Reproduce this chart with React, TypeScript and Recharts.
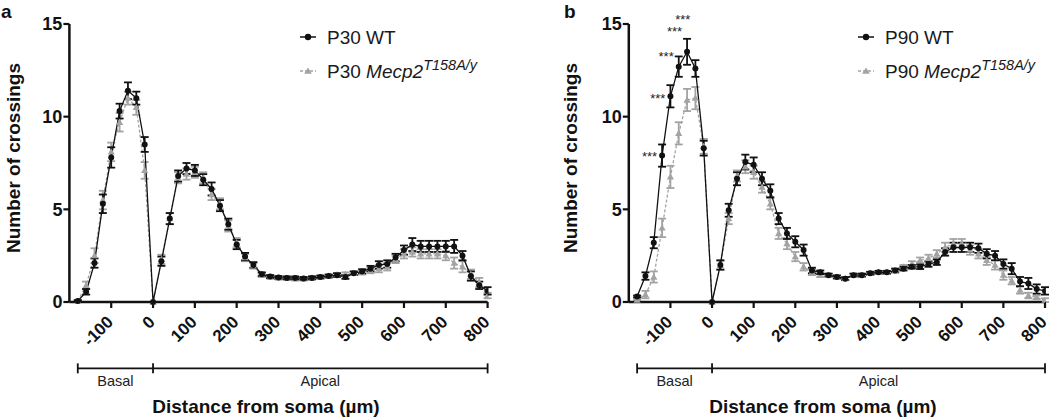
import React from 'react';
import {
  ComposedChart, Line, XAxis, YAxis, ErrorBar, ReferenceLine, ReferenceDot,
} from 'recharts';

// ---------- data ----------
const distances = [
  -180, -160, -140, -120, -100, -80, -60, -40, -20, 0,
  20, 40, 60, 80, 100, 120, 140, 160, 180, 200,
  220, 240, 260, 280, 300, 320, 340, 360, 380, 400,
  420, 440, 460, 480, 500, 520, 540, 560, 580, 600,
  620, 640, 660, 680, 700, 720, 740, 760, 780, 800,
];

const xTicks = [-100, 0, 100, 200, 300, 400, 500, 600, 700, 800];
const yTicks = [0, 5, 10, 15];

const namesA = ['P30 WT', 'P30 '];
const namesB = ['P90 WT', 'P90 '];
const geneName = 'Mecp2';
const geneSup = 'T158A/y';

const aWt = [
  0.05, 0.55, 2.1, 5.3, 7.8, 10.3, 11.4, 11.0, 8.5, 0,
  2.2, 4.5, 6.8, 7.2, 7.1, 6.6, 6.1, 5.2, 4.2, 3.1,
  2.45, 2.0, 1.5, 1.37, 1.32, 1.3, 1.3, 1.27, 1.3, 1.35,
  1.4, 1.45, 1.35, 1.55, 1.65, 1.8, 2.0, 2.05, 2.4, 2.8,
  3.1, 3.0, 3.0, 3.0, 3.0, 3.0, 2.5, 1.4, 0.9, 0.6,
];
const aWtErr = [
  0.05, 0.15, 0.25, 0.5, 0.55, 0.4, 0.45, 0.35, 0.4, 0,
  0.25, 0.3, 0.3, 0.3, 0.3, 0.3, 0.35, 0.3, 0.3, 0.25,
  0.2, 0.15, 0.1, 0.08, 0.08, 0.08, 0.08, 0.08, 0.08, 0.08,
  0.08, 0.1, 0.1, 0.1, 0.12, 0.15, 0.2, 0.2, 0.2, 0.25,
  0.35, 0.3, 0.3, 0.3, 0.3, 0.35, 0.25, 0.25, 0.2, 0.2,
];
const aMu = [
  0.05, 0.9, 2.5, 5.5, 8.1, 9.7, 11.0, 10.5, 7.1, 0,
  2.3, 4.5, 6.7, 6.9, 7.0, 6.7, 5.8, 5.3, 4.1, 3.2,
  2.4, 1.95, 1.45, 1.35, 1.3, 1.28, 1.25, 1.25, 1.3, 1.33,
  1.4, 1.48, 1.5, 1.55, 1.6, 1.7, 1.8, 1.9, 2.3, 2.6,
  2.7, 2.6, 2.6, 2.6, 2.5, 2.1, 1.9, 1.5, 1.05, 0.35,
];
const aMuErr = [
  0.05, 0.2, 0.4, 0.5, 0.5, 0.5, 0.35, 0.4, 0.45, 0,
  0.25, 0.3, 0.3, 0.3, 0.3, 0.3, 0.3, 0.3, 0.3, 0.25,
  0.2, 0.15, 0.1, 0.08, 0.08, 0.08, 0.08, 0.08, 0.08, 0.08,
  0.08, 0.08, 0.1, 0.1, 0.12, 0.15, 0.2, 0.2, 0.2, 0.25,
  0.25, 0.25, 0.25, 0.25, 0.25, 0.3, 0.3, 0.25, 0.25, 0.15,
];

const bWt = [
  0.3, 1.4, 3.2, 7.9, 11.1, 12.7, 13.5, 12.6, 8.3, 0,
  2.0, 4.95, 6.65, 7.55, 7.4, 6.65, 6.0, 4.5, 3.7, 3.25,
  2.8, 1.7, 1.6, 1.45, 1.35, 1.26, 1.45, 1.45, 1.55, 1.6,
  1.6, 1.7, 1.8, 1.9, 1.9, 2.05, 2.15, 2.7, 2.95, 2.95,
  2.95, 2.9, 2.6, 2.5, 2.05, 1.8, 1.1, 1.0, 0.7, 0.6,
];
const bWtErr = [
  0.05, 0.2, 0.3, 0.6, 0.6, 0.55, 0.7, 0.45, 0.4, 0,
  0.25, 0.35, 0.35, 0.4, 0.4, 0.35, 0.35, 0.3, 0.3, 0.3,
  0.3, 0.15, 0.1, 0.08, 0.08, 0.08, 0.08, 0.08, 0.08, 0.08,
  0.08, 0.1, 0.1, 0.1, 0.12, 0.15, 0.15, 0.2, 0.25, 0.25,
  0.25, 0.25, 0.25, 0.25, 0.25, 0.3, 0.25, 0.3, 0.25, 0.2,
];
const bMu = [
  0.1, 0.4, 1.35, 4.0, 6.75, 9.1, 10.9, 11.0, 8.4, 0,
  1.98, 4.5, 6.8, 7.3, 7.0, 6.2, 5.3, 3.7, 3.15, 2.45,
  1.9, 1.6, 1.45, 1.45, 1.35, 1.26, 1.45, 1.45, 1.55, 1.6,
  1.6, 1.7, 1.9, 2.05, 2.25, 2.35, 2.6, 2.95, 3.15, 3.15,
  2.8, 2.6, 2.25, 2.0, 1.45, 1.15, 0.65, 0.35, 0.25, 0.1,
];
const bMuErr = [
  0.05, 0.2, 0.3, 0.5, 0.6, 0.6, 0.6, 0.6, 0.4, 0,
  0.25, 0.3, 0.3, 0.35, 0.35, 0.3, 0.3, 0.3, 0.3, 0.25,
  0.2, 0.15, 0.1, 0.08, 0.08, 0.08, 0.08, 0.08, 0.08, 0.08,
  0.08, 0.1, 0.1, 0.15, 0.15, 0.2, 0.2, 0.25, 0.25, 0.25,
  0.25, 0.25, 0.25, 0.25, 0.25, 0.2, 0.2, 0.15, 0.1, 0.1,
];

// significance markers (panel b): x position and label height
const sigX = [-120, -100, -80, -60, -40];
const sigY = [7.85, 11.0, 13.25, 14.6, 15.25];
const sigLabel = '***';

// region brackets
const regionNames = ['Basal', 'Apical'];
const regionEdges = [-180, 0, 800];
const bracketY = -3.58;
const bracketCap = 0.27;
const regionLabelY = -4.26;

// ---------- styling ----------
const FONT = '"Liberation Sans", Arial, Helvetica, sans-serif';
const BLACK = '#111';
const GRAY = '#a3a3a3';

const build = (wt, wtErr, mu, muErr) =>
  distances.map((x, i) => ({ x, wt: wt[i], wtErr: wtErr[i], mu: mu[i], muErr: muErr[i] }));

const dataA = build(aWt, aWtErr, aMu, aMuErr);
const dataB = build(bWt, bWtErr, bMu, bMuErr);

const XTick = (props) => {
  const { x, y, payload } = props;
  const px = x + 3;
  const py = y + 13;
  return (
    <text
      x={px}
      y={py}
      transform={`rotate(-45 ${px} ${py})`}
      textAnchor="end"
      fontFamily={FONT}
      fontWeight="bold"
      fontSize={17}
      fill={BLACK}
    >
      {payload.value}
    </text>
  );
};

const YTick = (props) => {
  const { x, y, payload } = props;
  return (
    <text x={x} y={y} dy="0.36em" textAnchor="end" fontFamily={FONT} fontWeight="bold" fontSize={18} fill={BLACK}>
      {payload.value}
    </text>
  );
};

const TriangleDot = (props) => {
  const { cx, cy, index } = props;
  if (cx == null || cy == null) return <g key={`t-${index}`} />;
  const s = 3.6;
  return (
    <polygon
      key={`t-${index}`}
      points={`${cx},${cy - s} ${cx - s},${cy + s * 0.75} ${cx + s},${cy + s * 0.75}`}
      fill={GRAY}
      stroke="none"
    />
  );
};

const Panel = ({ data, width, marginLeft, marginRight, sig }) => (
  <ComposedChart
    width={width}
    height={418}
    data={data}
    margin={{ top: 24, right: marginRight, bottom: 0, left: marginLeft }}
  >
    <XAxis
      type="number"
      dataKey="x"
      domain={[-200, 800]}
      ticks={xTicks}
      allowDataOverflow
      height={116}
      axisLine={{ stroke: BLACK, strokeWidth: 2.5 }}
      tickLine={{ stroke: BLACK, strokeWidth: 2.2 }}
      tickSize={6}
      tickMargin={2}
      tick={<XTick />}
      interval={0}
    />
    <YAxis
      type="number"
      domain={[0, 15]}
      ticks={yTicks}
      width={50}
      axisLine={{ stroke: BLACK, strokeWidth: 2.5 }}
      tickLine={{ stroke: BLACK, strokeWidth: 2.2 }}
      tickSize={6}
      tickMargin={1}
      tick={<YTick />}
      interval={0}
    />
    <Line
      type="linear"
      dataKey="mu"
      stroke={GRAY}
      strokeWidth={1.3}
      strokeDasharray="3 2"
      dot={TriangleDot}
      activeDot={false}
      isAnimationActive={false}
    >
      <ErrorBar dataKey="muErr" direction="y" width={4} stroke={GRAY} strokeWidth={1.8} />
    </Line>
    <Line
      type="linear"
      dataKey="wt"
      stroke={BLACK}
      strokeWidth={1.3}
      dot={{ r: 3, fill: BLACK, stroke: BLACK, strokeWidth: 0 }}
      activeDot={false}
      isAnimationActive={false}
    >
      <ErrorBar dataKey="wtErr" direction="y" width={4} stroke={BLACK} strokeWidth={1.8} />
    </Line>

    {/* Basal / Apical brackets */}
    <ReferenceLine
      segment={[{ x: regionEdges[0], y: bracketY }, { x: regionEdges[2], y: bracketY }]}
      stroke={BLACK}
      strokeWidth={1.8}
      ifOverflow="visible"
    />
    {regionEdges.map((e) => (
      <ReferenceLine
        key={`cap-${e}`}
        segment={[{ x: e, y: bracketY - bracketCap }, { x: e, y: bracketY + bracketCap }]}
        stroke={BLACK}
        strokeWidth={1.8}
        ifOverflow="visible"
      />
    ))}
    {regionNames.map((n, i) => (
      <ReferenceDot
        key={`rl-${n}`}
        x={(regionEdges[i] + regionEdges[i + 1]) / 2}
        y={regionLabelY}
        r={0}
        stroke="none"
        fill="none"
        ifOverflow="visible"
        label={{ value: n, position: 'center', fontSize: 14.5, fill: '#222', fontFamily: FONT }}
      />
    ))}

    {sig &&
      sigX.map((sx, i) => (
        <ReferenceDot
          key={`sig-${sx}`}
          x={sx}
          y={sigY[i]}
          r={0}
          stroke="none"
          fill="none"
          ifOverflow="visible"
          label={{ value: sigLabel, position: 'left', offset: 5, fontSize: 13, fill: '#222', fontFamily: FONT }}
        />
      ))}
  </ComposedChart>
);

const LegendBlock = ({ x, names }) => (
  <g fontFamily={FONT} fill="#1a1a1a">
    <line x1={x} x2={x + 16} y1={37} y2={37} stroke={BLACK} strokeWidth={1.5} />
    <circle cx={x + 8} cy={37} r={3.2} fill={BLACK} />
    <text x={x + 27} y={43.5} fontSize={19}>{names[0]}</text>
    <line x1={x} x2={x + 16} y1={71} y2={71} stroke={GRAY} strokeWidth={1.5} strokeDasharray="3 2" />
    <polygon points={`${x + 8},${67.5} ${x + 4.2},${73.8} ${x + 11.8},${73.8}`} fill={GRAY} />
    <text x={x + 27} y={77.5} fontSize={19}>
      {names[1]}
      <tspan fontStyle="italic">{geneName}</tspan>
      <tspan fontStyle="italic" fontSize={14.5} dy={-7.5}>{geneSup}</tspan>
    </text>
  </g>
);

export default function App() {
  return (
    <div style={{ position: 'absolute', left: 0, top: 0, width: 1050, height: 418, background: '#fff' }}>
      <div style={{ position: 'absolute', left: 0, top: 0 }}>
        <Panel data={dataA} width={500} marginLeft={19.4} marginRight={12.4} sig={false} />
      </div>
      <div style={{ position: 'absolute', left: 525, top: 0 }}>
        <Panel data={dataB} width={525} marginLeft={53.8} marginRight={5} sig={true} />
      </div>
      <svg
        width={1050}
        height={418}
        style={{ position: 'absolute', left: 0, top: 0, pointerEvents: 'none' }}
      >
        <g fontFamily={FONT} fontWeight="bold" fill={BLACK}>
          <text x={1} y={18} fontSize={19}>a</text>
          <text x={564} y={18} fontSize={19}>b</text>
          <text
            x={13}
            y={158}
            fontSize={19}
            textAnchor="middle"
            dominantBaseline="central"
            transform="rotate(-90 13 158)"
          >
            Number of crossings
          </text>
          <text
            x={570}
            y={158}
            fontSize={19}
            textAnchor="middle"
            dominantBaseline="central"
            transform="rotate(-90 570 158)"
          >
            Number of crossings
          </text>
          <text x={266} y={413} fontSize={19} textAnchor="middle">Distance from soma (µm)</text>
          <text x={823} y={413} fontSize={19} textAnchor="middle">Distance from soma (µm)</text>
        </g>
        <LegendBlock x={300} names={namesA} />
        <LegendBlock x={858} names={namesB} />
      </svg>
    </div>
  );
}
